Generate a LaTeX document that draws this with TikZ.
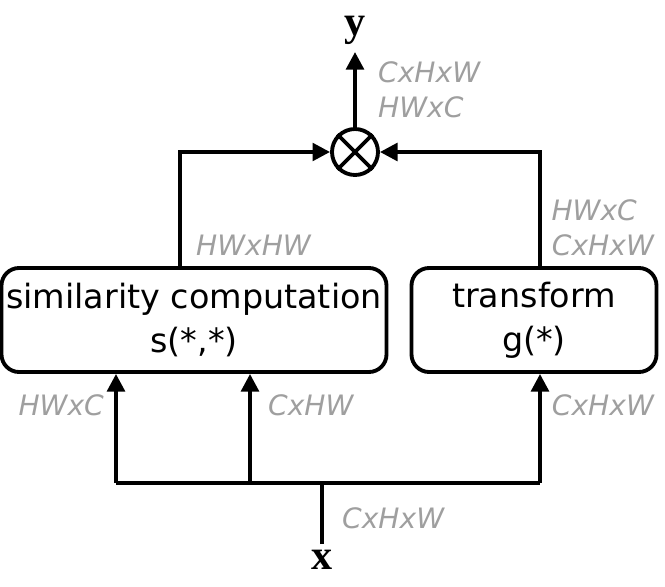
\documentclass[tikz,border=0pt]{standalone}
\usepackage{fontspec}
\setmainfont{DejaVu Sans}
\newfontfamily\serifbold{Liberation Serif}
\usetikzlibrary{arrows.meta}
\tikzset{
  blockbox/.style={draw,line width=2.2pt,rounded corners=10pt,align=center,inner sep=0pt,
    minimum height=104*0.02cm,font=\fontsize{19}{25}\selectfont},
  dimlabel/.style={text=gray!75,font=\fontsize{16}{18}\selectfont\itshape},
  flow/.style={line width=2.2pt,-{Triangle[length=10pt,width=10pt]}},
  plain/.style={line width=2.2pt}
}
\begin{document}
\begin{tikzpicture}[x=0.02cm,y=-0.02cm]
  \useasboundingbox (0,0) rectangle (665,587);
  % blocks
  \node[blockbox,minimum width=385*0.02cm] (sim) at (194,320) {similarity computation\\s(*,*)};
  \node[blockbox,minimum width=245*0.02cm] (tr) at (534,320) {transform\\g(*)};
  % product
  \node[draw,circle,line width=2.2pt,minimum size=46*0.02cm] (prod) at (355,152) {};
  \draw[plain] (prod.north east) -- (prod.south west) (prod.north west) -- (prod.south east);
  \node[font=\fontsize{24}{26}\selectfont\serifbold\bfseries] (y) at (355,30) {y};
  \node[font=\fontsize{24}{26}\selectfont\serifbold\bfseries] (x) at (322,560) {x};
  \coordinate (top) at (355,52);
  \coordinate (split) at (322,483);
  \coordinate (b1) at (116,483);
  \coordinate (b2) at (250,483);
  \coordinate (b3) at (540,483);
  % connectors
  \draw[flow] (prod.north) -- (top);
  \draw[flow] (sim.north -| 180,0) |- (prod.west);
  \draw[flow] (tr.north -| 540,0) |- (prod.east);
  \draw[plain] (x.north) -- (split);
  \draw[plain] (b1) -- (b3);
  \draw[flow] (b1) -- (b1 |- sim.south);
  \draw[flow] (b2) -- (b2 |- sim.south);
  \draw[flow] (b3) -- (b3 |- tr.south);
  % dimension labels
  \node[dimlabel,anchor=west] (l1) at (372,72) {CxHxW};
  \node[dimlabel,anchor=west] (l2) at (372,107) {HWxC};
  \node[dimlabel,anchor=west] (l3) at (190,245) {HWxHW};
  \node[dimlabel,anchor=east] (l4) at (643,210) {HWxC};
  \node[dimlabel,anchor=east] (l5) at (660,245) {CxHxW};
  \node[dimlabel,anchor=east] (l6) at (110,405) {HWxC};
  \node[dimlabel,anchor=west] (l7) at (262,405) {CxHW};
  \node[dimlabel,anchor=east] (l8) at (660,405) {CxHxW};
  \node[dimlabel,anchor=west] (l9) at (336,518) {CxHxW};
\end{tikzpicture}
\end{document}
